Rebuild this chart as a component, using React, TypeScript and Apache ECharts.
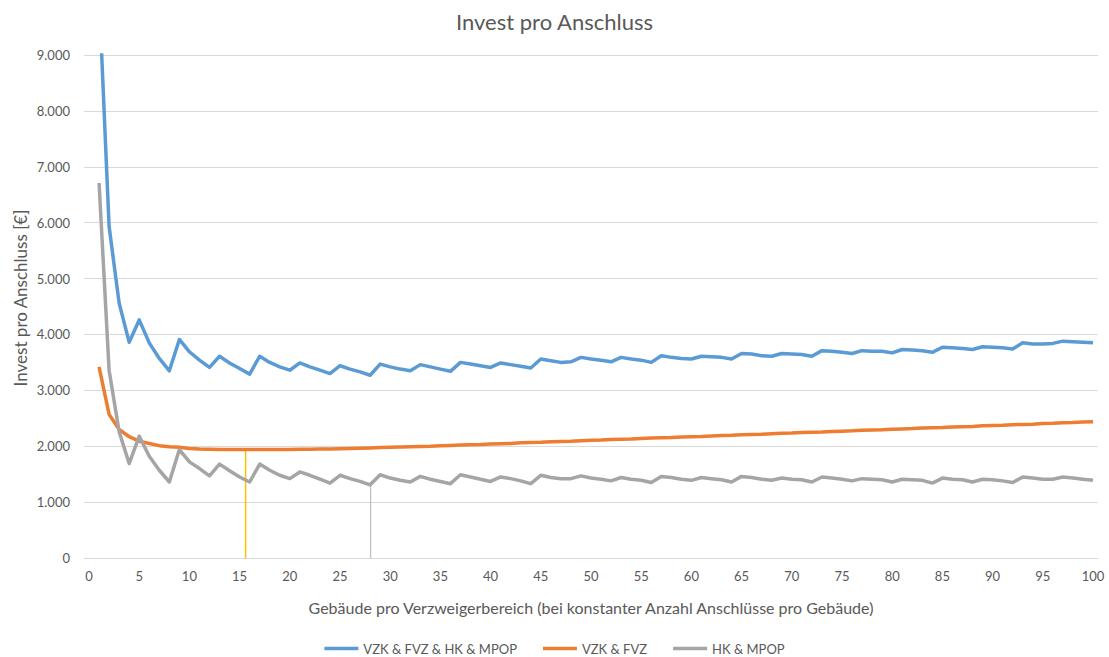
import React, { useEffect, useRef } from "react";
import * as echarts from "echarts";

// x categories 0..100 (buildings per branching area)
const categories: string[] = Array.from({ length: 101 }, (_, i) => String(i));

// values for x = 1..100
const totalValues = [
  10100, 5930, 4560, 3860, 4260, 3850, 3570, 3350, 3910, 3690,
  3540, 3410, 3610, 3490, 3390, 3290, 3610, 3500, 3420, 3360,
  3490, 3420, 3360, 3300, 3440, 3380, 3330, 3270, 3470, 3420,
  3380, 3350, 3460, 3420, 3380, 3340, 3500, 3470, 3440, 3410,
  3490, 3460, 3430, 3400, 3560, 3530, 3500, 3510, 3590, 3560,
  3540, 3510, 3590, 3560, 3540, 3500, 3620, 3590, 3570, 3560,
  3610, 3600, 3590, 3560, 3660, 3650, 3620, 3610, 3660, 3650,
  3640, 3610, 3710, 3700, 3680, 3660, 3710, 3700, 3700, 3670,
  3730, 3720, 3710, 3680, 3770, 3760, 3750, 3730, 3780, 3770,
  3760, 3740, 3850, 3830, 3830, 3840, 3880, 3870, 3860, 3850,
];

const vzkFvzValues = [
  3420, 2570, 2300, 2170, 2090, 2050, 2010, 1990, 1980, 1960,
  1950, 1945, 1940, 1940, 1940, 1940, 1940, 1940, 1940, 1940,
  1945, 1945, 1950, 1950, 1955, 1960, 1965, 1970, 1975, 1980,
  1985, 1990, 1995, 2000, 2010, 2015, 2020, 2025, 2030, 2040,
  2045, 2050, 2060, 2065, 2070, 2080, 2085, 2090, 2100, 2105,
  2110, 2120, 2125, 2130, 2140, 2145, 2150, 2155, 2165, 2170,
  2175, 2185, 2190, 2195, 2205, 2210, 2215, 2225, 2230, 2235,
  2245, 2250, 2255, 2265, 2270, 2275, 2285, 2290, 2295, 2305,
  2310, 2315, 2325, 2330, 2335, 2345, 2350, 2355, 2365, 2370,
  2375, 2385, 2390, 2395, 2405, 2410, 2420, 2425, 2435, 2440,
];

const hkMpopValues = [
  6710, 3360, 2260, 1690, 2180, 1820, 1570, 1360, 1940, 1720,
  1600, 1470, 1680, 1560, 1450, 1360, 1680, 1570, 1480, 1420,
  1540, 1480, 1410, 1340, 1480, 1420, 1370, 1310, 1490, 1430,
  1390, 1360, 1460, 1410, 1370, 1330, 1490, 1450, 1410, 1370,
  1450, 1420, 1380, 1330, 1480, 1440, 1420, 1420, 1470, 1430,
  1410, 1380, 1440, 1410, 1390, 1350, 1460, 1440, 1410, 1390,
  1440, 1420, 1400, 1360, 1460, 1440, 1410, 1390, 1430, 1410,
  1400, 1360, 1450, 1430, 1410, 1380, 1420, 1410, 1400, 1360,
  1410, 1400, 1390, 1340, 1430, 1410, 1400, 1360, 1410, 1400,
  1380, 1350, 1450, 1430, 1410, 1410, 1450, 1430, 1410, 1390,
];

// vertical marker lines: [x, top value]
const yellowMarker = [15.6, 1950];
const grayMarker = [28.05, 1310];

const seriesNames = ["VZK & FVZ & HK & MPOP", "VZK & FVZ", "HK & MPOP"];

const FONT = "Lato";
const TEXT = "#595959";

export default function App() {
  const ref = useRef<HTMLDivElement>(null);
  useEffect(() => {
    if (!ref.current) return;
    const chart = echarts.init(ref.current, undefined, { renderer: "svg" });
    const lineSeries = (name: string, values: number[], color: string) => ({
      name,
      type: "line",
      data: [null, ...values],
      symbol: "none",
      showSymbol: false,
      clip: true,
      lineStyle: { color, width: 3.5, join: "round" },
      itemStyle: { color },
      z: 3,
    });
    chart.setOption({
      animation: false,
      backgroundColor: "#ffffff",
      textStyle: { fontFamily: FONT },
      title: {
        text: "Invest pro Anschluss",
        left: "center",
        top: 5,
        textStyle: { fontFamily: FONT, fontSize: 22, fontWeight: "normal", color: TEXT },
      },
      legend: {
        data: seriesNames,
        top: 637,
        left: "center",
        icon: "rect",
        itemWidth: 34,
        itemHeight: 3.5,
        itemGap: 26,
        textStyle: { fontFamily: FONT, fontSize: 13, color: TEXT },
      },
      grid: { left: 84, right: 11, top: 55, bottom: 99, containLabel: false },
      xAxis: [
        {
          type: "category",
          data: categories,
          boundaryGap: true,
          name: "Gebäude pro Verzweigerbereich (bei konstanter Anzahl Anschlüsse pro Gebäude)",
          nameLocation: "middle",
          nameGap: 41,
          nameTextStyle: { fontFamily: FONT, fontSize: 16, color: TEXT },
          axisLine: { show: true, lineStyle: { color: "#d9d9d9", width: 1 } },
          axisTick: { show: false },
          axisLabel: { interval: 4, color: TEXT, fontSize: 13, fontFamily: FONT, margin: 11 },
          splitLine: { show: false },
        },
        {
          type: "value",
          min: -0.5,
          max: 100.5,
          show: false,
        },
      ],
      yAxis: {
        type: "value",
        min: 0,
        max: 9000,
        interval: 1000,
        axisLine: { show: false },
        axisTick: { show: false },
        axisLabel: {
          color: TEXT,
          fontSize: 13,
          fontFamily: FONT,
          margin: 14,
          formatter: (v: number) => (v === 0 ? "0" : `${v / 1000}.000`),
        },
        splitLine: { lineStyle: { color: "#d9d9d9", width: 1 } },
      },
      graphic: [
        {
          type: "text",
          x: 20,
          y: 298,
          rotation: Math.PI / 2,
          style: {
            text: "Invest pro Anschluss [€]",
            fontFamily: FONT,
            fontSize: 17,
            fill: TEXT,
            align: "center",
            verticalAlign: "middle",
          },
        },
      ],
      series: [
        {
          name: "yellowMarker",
          type: "line",
          xAxisIndex: 1,
          data: [
            [yellowMarker[0], 0],
            [yellowMarker[0], yellowMarker[1]],
          ],
          symbol: "none",
          silent: true,
          lineStyle: { color: "#FFC000", width: 1.5 },
          z: 1,
        },
        {
          name: "grayMarker",
          type: "line",
          xAxisIndex: 1,
          data: [
            [grayMarker[0], 0],
            [grayMarker[0], grayMarker[1]],
          ],
          symbol: "none",
          silent: true,
          lineStyle: { color: "#BFBFBF", width: 1.2 },
          z: 1,
        },
        lineSeries(seriesNames[0], totalValues, "#5B9BD5"),
        lineSeries(seriesNames[1], vzkFvzValues, "#ED7D31"),
        lineSeries(seriesNames[2], hkMpopValues, "#A5A5A5"),
      ],
    });
    return () => chart.dispose();
  }, []);
  return (
    <div
      ref={ref}
      style={{ position: "absolute", left: 0, top: 0, width: 1109, height: 657 }}
    />
  );
}
